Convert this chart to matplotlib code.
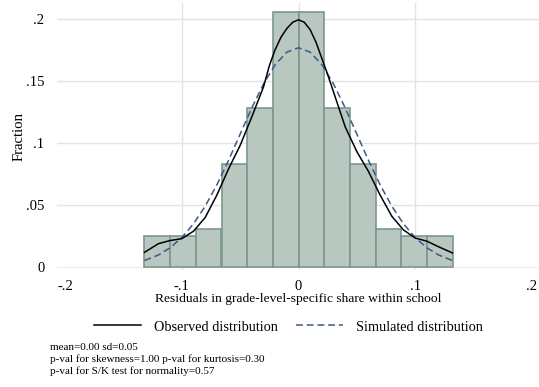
import matplotlib
matplotlib.use("Agg")
import matplotlib.pyplot as plt
from matplotlib.lines import Line2D

# ---- data ----
bin_edges = [-0.132, -0.110, -0.088, -0.066, -0.044, -0.022, 0.0,
             0.022, 0.044, 0.066, 0.088, 0.110, 0.132]
bin_heights = [0.025, 0.025, 0.031, 0.083, 0.128, 0.205,
               0.205, 0.128, 0.083, 0.031, 0.025, 0.025]

obs_x = [-0.132, -0.12, -0.11, -0.10, -0.09, -0.08, -0.07, -0.06, -0.05, -0.04,
         -0.03, -0.025, -0.02, -0.015, -0.01, -0.005, 0.0, 0.005, 0.01, 0.015,
         0.02, 0.025, 0.03, 0.04, 0.05, 0.06, 0.07,
         0.08, 0.09, 0.10, 0.11, 0.12, 0.132]
obs_y = [0.012, 0.019, 0.0215, 0.023, 0.029, 0.040, 0.058, 0.079, 0.098, 0.121,
         0.145, 0.162, 0.175, 0.185, 0.192, 0.197, 0.199, 0.197, 0.191, 0.181,
         0.168, 0.155, 0.141, 0.113, 0.093, 0.077,
         0.058, 0.041, 0.030, 0.0235, 0.021, 0.0165, 0.0115]

sim_x = [-0.132, -0.12, -0.11, -0.10, -0.09, -0.08, -0.07, -0.06, -0.05, -0.04,
         -0.03, -0.02, -0.01, 0.0, 0.01, 0.02, 0.03, 0.04, 0.05, 0.06, 0.07,
         0.08, 0.09, 0.10, 0.11, 0.12, 0.132]
sim_y = [0.0054, 0.0099, 0.0157, 0.0239, 0.0349, 0.0491, 0.0662, 0.0859, 0.1071,
         0.1282, 0.1474, 0.1629, 0.1730, 0.1765, 0.1730, 0.1629, 0.1474, 0.1282,
         0.1071, 0.0859, 0.0662, 0.0491, 0.0349, 0.0239, 0.0157, 0.0099, 0.0054]

xticks = [-0.2, -0.1, 0.0, 0.1, 0.2]
xticklabels = ["-.2", "-.1", "0", ".1", ".2"]
yticks = [0.0, 0.05, 0.1, 0.15, 0.2]
yticklabels = ["0", ".05", ".1", ".15", ".2"]

xlabel = "Residuals in grade-level-specific share within school"
ylabel = "Fraction"
legend_labels = ["Observed distribution", "Simulated distribution"]
note_lines = ["mean=0.00 sd=0.05",
              "p-val for skewness=1.00 p-val for kurtosis=0.30",
              "p-val for S/K test for normality=0.57"]

# ---- figure ----
plt.rcParams['font.family'] = ['Liberation Serif', 'DejaVu Serif']
W, H = 539, 387
fig = plt.figure(figsize=(W / 100, H / 100), dpi=100)
ax_l, ax_r, ax_t, ax_b = 57, 540, 3, 270
ax = fig.add_axes([ax_l / W, 1 - ax_b / H, (ax_r - ax_l) / W, (ax_b - ax_t) / H])

grid_c = '#e4e4e4'
for yv in yticks:
    ax.axhline(yv, color=grid_c if yv > 0 else '#f0f0f0', lw=1.0, zorder=0)
for xv in xticks[1:-1]:
    ax.axvline(xv, color=grid_c, lw=1.0, zorder=0)

widths = [bin_edges[i + 1] - bin_edges[i] for i in range(len(bin_heights))]
ax.bar(bin_edges[:-1], bin_heights, width=widths, align='edge',
       color='#b9c7c1', edgecolor='#7b978b', linewidth=1.2, zorder=2)

ax.plot(obs_x, obs_y, color='black', lw=1.1, zorder=4, solid_joinstyle='round')
ax.plot(sim_x, sim_y, color='#3b5b86', lw=1.1, ls=(0, (4.5, 2.5)), zorder=3)

ax.set_xlim(-0.207, 0.207)
ax.set_ylim(-0.0022, 0.2125)
ax.set_xticks(xticks)
ax.set_xticklabels(xticklabels)
ax.set_yticks(yticks)
ax.set_yticklabels(yticklabels)
ax.tick_params(length=0, labelsize=10.5)
ax.tick_params(axis='x', pad=7)
ax.tick_params(axis='y', pad=9)
for s in ax.spines.values():
    s.set_visible(False)
ax.set_xlabel(xlabel, fontsize=9.7, labelpad=0)
ax.set_ylabel(ylabel, fontsize=10.6, labelpad=0.5)

handles = [Line2D([], [], color='black', lw=1.1),
           Line2D([], [], color='#3b5b86', lw=1.1, ls=(0, (4.5, 2.5)))]
fig.legend(handles, legend_labels, loc='center', ncol=2, frameon=False,
           bbox_to_anchor=(288.5 / W, 1 - 327 / H), fontsize=10.3,
           handlelength=3.3, handletextpad=0.9, columnspacing=1.25)

for i, line in enumerate(note_lines):
    fig.text(50 / W, 1 - (347 + 12 * i) / H, line, fontsize=8,
             ha='left', va='center')

fig.savefig("out.png", dpi=100, facecolor='white')
